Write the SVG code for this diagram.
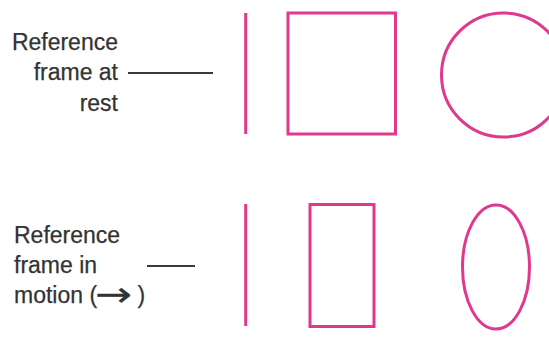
<svg xmlns="http://www.w3.org/2000/svg" width="549" height="339" viewBox="0 0 549 339">
<style>
.lbl{font-family:"Liberation Sans",Arial,sans-serif;font-size:23px;fill:#333333;stroke:#333333;stroke-width:0.25}
.arr{font-family:"DejaVu Sans",sans-serif;font-size:34px}
.shape{fill:none;stroke:#e0388d;stroke-width:3}
.conn{stroke:#3a3a3a;stroke-width:2;fill:none}
</style>
<rect width="549" height="339" fill="#ffffff"/>
<g id="label-rest">
<text class="lbl" text-anchor="end" x="118" y="49.5">Reference</text>
<text class="lbl" text-anchor="end" x="118" y="80">frame at</text>
<text class="lbl" text-anchor="end" x="118" y="110.5">rest</text>
</g>
<g id="label-motion">
<text class="lbl" x="14" y="242.5">Reference</text>
<text class="lbl" x="14" y="272.5">frame in</text>
<text class="lbl" x="14" y="302.5">motion (<tspan class="arr" x="95" y="305.5" textLength="37" lengthAdjust="spacingAndGlyphs">→</tspan><tspan x="137.5" y="302.5">)</tspan></text>
</g>
<g id="connectors">
<line class="conn" x1="128" y1="73" x2="213" y2="73"/>
<line class="conn" x1="147" y1="266" x2="195" y2="266"/>
</g>
<g id="rest-line"><line class="shape" x1="245.7" y1="13" x2="245.7" y2="134"/></g>
<g id="rest-square"><rect class="shape" x="288" y="13" width="107.5" height="121"/></g>
<g id="rest-circle"><circle class="shape" cx="503.5" cy="75" r="62"/></g>
<g id="motion-line"><line class="shape" x1="245.7" y1="204" x2="245.7" y2="326"/></g>
<g id="motion-rect"><rect class="shape" x="310" y="204.5" width="64" height="122"/></g>
<g id="motion-ellipse"><ellipse class="shape" cx="496" cy="267" rx="33.5" ry="62"/></g>
</svg>
